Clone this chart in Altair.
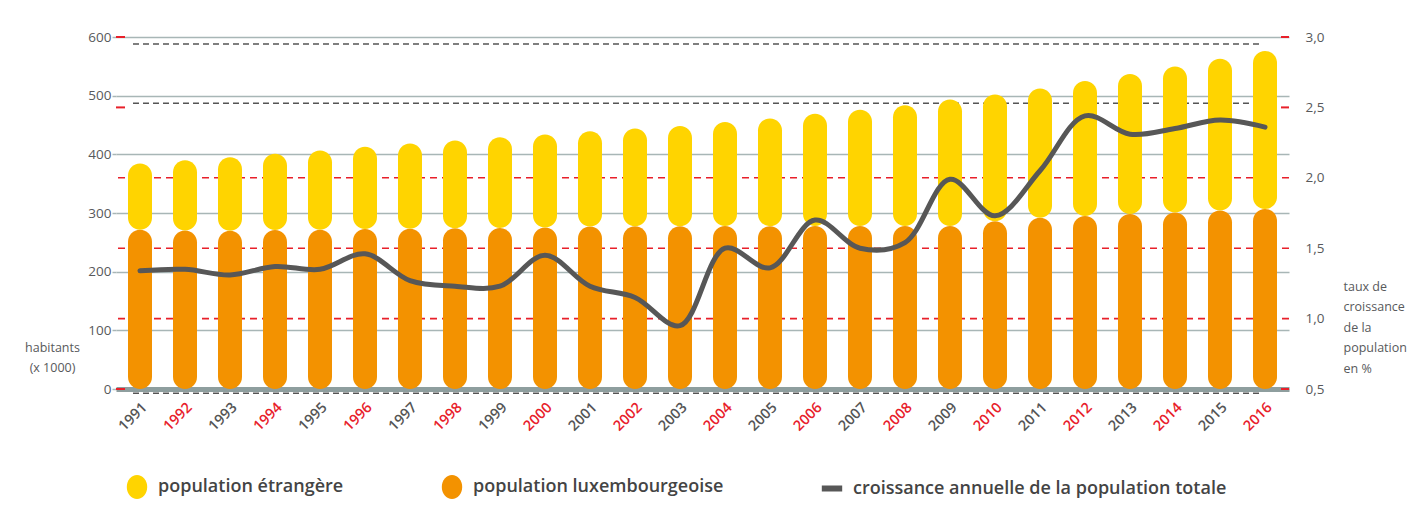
import altair as alt
import pandas as pd

# ---------------- data ----------------
years = list(range(1991, 2017))
total_pop = [384.4, 389.8, 395.2, 400.9, 406.6, 412.8, 418.3, 423.7, 429.2, 433.6,
             439.5, 444.1, 448.3, 455.0, 461.2, 469.1, 476.2, 483.8, 493.5, 502.1,
             512.4, 524.9, 537.0, 549.7, 563.0, 576.2]
lux_pop = [271.4, 270.1, 269.8, 271.0, 271.4, 272.7, 273.0, 273.9, 274.5, 275.2,
           277.2, 277.3, 277.6, 277.9, 277.6, 277.8, 277.9, 277.9, 278.0, 285.8,
           291.9, 295.0, 298.2, 300.8, 304.3, 307.0]
growth = [1.34, 1.35, 1.31, 1.37, 1.35, 1.46, 1.27, 1.23, 1.23, 1.45,
          1.23, 1.15, 0.95, 1.50, 1.36, 1.70, 1.50, 1.54, 1.99, 1.73,
          2.05, 2.44, 2.31, 2.35, 2.41, 2.36]

series = ["population étrangère", "population luxembourgeoise",
          "croissance annuelle de la population totale"]
series_colors = ["#FFD400", "#F39200", "#575757"]

left_ticks = [0, 100, 200, 300, 400, 500, 600]
right_ticks = [0.5, 1.0, 1.5, 2.0, 2.5, 3.0]
red_lines = [1.0, 1.5, 2.0]
red_marks = [0.5, 2.5, 3.0]
dark_lines = [0.47, 2.53, 2.95]

RED = "#E8202A"
GRID = "#A8B6B6"
TXT = "#58595B"
FONT = "Open Sans"

W, H = 1173, 352

# ---------------- tables ----------------
bars_rows = []
for y, t, l in zip(years, total_pop, lux_pop):
    bars_rows.append({"year": y, "serie": series[1], "top": l, "bot": 0, "fill": series_colors[1]})
    bars_rows.append({"year": y, "serie": series[0], "top": t, "bot": l, "fill": series_colors[0]})
bars_df = pd.DataFrame(bars_rows)
line_df = pd.DataFrame({"year": years, "g": growth})
legend_df = pd.DataFrame({"serie": series})

right_scale = alt.Scale(domain=[0.5, 3.0], nice=False, zero=False)
left_scale = alt.Scale(domain=[0, 600], nice=False)
xscale = alt.Scale(paddingInner=0.4667, paddingOuter=0.2667)

xenc = alt.X(
    "year:O",
    title=None,
    scale=xscale,
    axis=alt.Axis(
        labelAngle=-45, labelAlign="right", labelBaseline="middle",
        labelFontWeight=600, labelFontSize=14.5, labelFont=FONT,
        labelColor=alt.ExprRef(f"datum.value % 2 == 0 ? '{RED}' : '#555555'"),
        ticks=False, domainColor="#8E9E9E", domainWidth=5, labelPadding=16,
        labelOffset=5, grid=False,
    ),
)

# red dashed reference lines (carry the right axis)
red_rules = alt.Chart(pd.DataFrame({"v": red_lines})).mark_rule(
    color=RED, strokeDash=[7, 5], strokeWidth=1.6
).encode(
    y=alt.Y("v:Q", scale=right_scale, axis=alt.Axis(
        orient="right", values=right_ticks,
        labelExpr="replace(format(datum.value, '.1f'), '.', ',')",
        domain=False, ticks=False, grid=False, labelPadding=16,
        labelFontSize=13.5, labelColor=TXT, labelFont=FONT, labelBaseline="middle",
        title=["taux de", "croissance", "de la", "population", "en %"],
        titleAngle=0, titleAlign="left", titleBaseline="top",
        titleX=54, titleY=243, titleFontSize=12.5, titleFontWeight="normal",
        titleColor=TXT, titleFont=FONT, titleLineHeight=20.5,
    ))
)

dark_rules = alt.Chart(pd.DataFrame({"v": dark_lines})).mark_rule(
    color="#555555", strokeDash=[6, 4], strokeWidth=1.6
).encode(
    y=alt.Y("v:Q", scale=right_scale, axis=None),
    x=alt.value(17), x2=alt.value(W - 26),
)

ticks_left = alt.Chart(pd.DataFrame({"v": red_marks})).mark_rule(
    color=RED, strokeWidth=2
).encode(y=alt.Y("v:Q", scale=right_scale, axis=None), x=alt.value(0), x2=alt.value(9))

ticks_right = alt.Chart(pd.DataFrame({"v": red_marks})).mark_rule(
    color=RED, strokeWidth=2
).encode(y=alt.Y("v:Q", scale=right_scale, axis=None), x=alt.value(W - 8), x2=alt.value(W))

bars = alt.Chart(bars_df).mark_bar(cornerRadius=12).encode(
    x=xenc,
    y=alt.Y("top:Q", scale=left_scale, axis=alt.Axis(
        orient="left", values=left_ticks, grid=True, gridColor=GRID, gridWidth=1.5,
        domain=False, ticks=True, tickSize=4, tickColor=GRID, tickWidth=1.5,
        labelPadding=1, labelFontSize=13.5, labelColor=TXT, labelFont=FONT,
        title=["habitants", "(x 1000)"], titleAngle=0, titleAlign="center",
        titleBaseline="top", titleX=-64, titleY=304, titleFontSize=12.5,
        titleFontWeight="normal", titleColor=TXT, titleFont=FONT, titleLineHeight=20,
    )),
    y2="bot:Q",
    color=alt.Color("fill:N", scale=None),
)

line = alt.Chart(line_df).mark_line(
    interpolate="catmull-rom", color="#575757", strokeWidth=5, strokeCap="round"
).encode(
    x=alt.X("year:O", bandPosition=0.5, title=None, scale=xscale),
    y=alt.Y("g:Q", scale=right_scale, axis=None),
)

ellipse = "M0,-1A0.85,1,0,1,1,0,1A0.85,1,0,1,1,0,-1Z"
dash = "M-0.85,-0.25L0.85,-0.25L0.85,0.25L-0.85,0.25Z"
legend_layer = alt.Chart(legend_df).mark_point(filled=True, opacity=0).encode(
    color=alt.Color("serie:N", scale=alt.Scale(domain=series, range=series_colors),
                    legend=alt.Legend(title=None)),
    shape=alt.Shape("serie:N", scale=alt.Scale(domain=series, range=[ellipse, ellipse, dash]),
                    legend=alt.Legend(title=None)),
)

chart = alt.layer(
    red_rules, dark_rules, ticks_left, ticks_right, bars, line, legend_layer
).resolve_scale(y="independent").properties(
    width=W, height=H,
    padding={"left": 108, "top": 29, "right": 120, "bottom": 120},
    autosize=alt.AutoSizeParams(type="none"),
    background="white",
).configure_view(stroke=None).configure_legend(
    orient="none", legendX=9, legendY=438, direction="horizontal",
    symbolSize=576, symbolStrokeWidth=0, symbolOpacity=1,
    labelFontSize=18, labelFontWeight=600, labelColor="#444444", labelFont=FONT,
    labelOffset=9, columnPadding=96, padding=0, labelLimit=0,
)

chart.save("out.html", embed_options={"renderer": "svg", "actions": False})
